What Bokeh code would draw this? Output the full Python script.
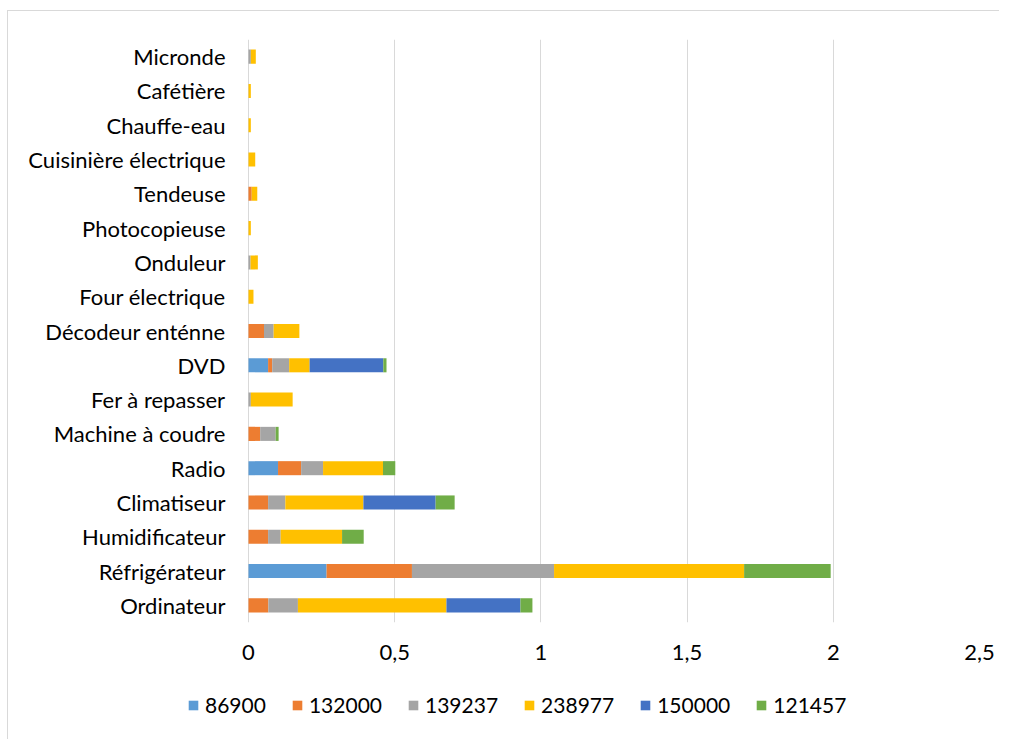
from bokeh.plotting import figure
from bokeh.layouts import column
from bokeh.models import ColumnDataSource, FactorRange, Range1d, Legend, LegendItem, FixedTicker
from bokeh.embed import file_html
from bokeh.resources import INLINE

categories = ["Ordinateur", "Réfrigérateur", "Humidificateur", "Climatiseur", "Radio",
              "Machine à coudre", "Fer à repasser", "DVD", "Décodeur enténne",
              "Four électrique", "Onduleur", "Photocopieuse", "Tendeuse",
              "Cuisinière électrique", "Chauffe-eau", "Cafétière", "Micronde"]

series_names = ["86900", "132000", "139237", "238977", "150000", "121457"]

s86900  = [0.000, 0.267, 0.000, 0.000, 0.101, 0.000, 0.000, 0.067, 0.000, 0.000, 0.000, 0.000, 0.000, 0.000, 0.000, 0.000, 0.000]
s132000 = [0.068, 0.292, 0.067, 0.067, 0.079, 0.040, 0.000, 0.014, 0.053, 0.000, 0.000, 0.000, 0.011, 0.000, 0.000, 0.000, 0.000]
s139237 = [0.101, 0.486, 0.043, 0.059, 0.075, 0.053, 0.008, 0.058, 0.033, 0.000, 0.007, 0.000, 0.000, 0.000, 0.000, 0.000, 0.008]
s238977 = [0.508, 0.650, 0.210, 0.267, 0.205, 0.000, 0.143, 0.070, 0.088, 0.017, 0.025, 0.008, 0.019, 0.023, 0.008, 0.008, 0.017]
s150000 = [0.253, 0.000, 0.000, 0.247, 0.000, 0.000, 0.000, 0.252, 0.000, 0.000, 0.000, 0.000, 0.000, 0.000, 0.000, 0.000, 0.000]
s121457 = [0.041, 0.296, 0.074, 0.065, 0.042, 0.010, 0.000, 0.011, 0.000, 0.000, 0.000, 0.000, 0.000, 0.000, 0.000, 0.000, 0.000]

tick_values = [0, 0.5, 1, 1.5, 2, 2.5]
tick_labels = ["0", "0,5", "1", "1,5", "2", "2,5"]

colors = ["#5B9BD5", "#ED7D31", "#A5A5A5", "#FFC000", "#4472C4", "#70AD47"]

source = ColumnDataSource(dict(cat=categories, s86900=s86900, s132000=s132000, s139237=s139237,
                               s238977=s238977, s150000=s150000, s121457=s121457))
keys = ["s86900", "s132000", "s139237", "s238977", "s150000", "s121457"]

FONT = "Lato"

# The frame starts 61px left of the value 0 so that the legend strip below
# (whose frame is aligned with this one) can start at the same left edge.
X_START = -61 / (731 / 2.5)

p = figure(y_range=FactorRange(*categories, range_padding=0), x_range=Range1d(X_START, 2.5),
           frame_width=792, frame_height=583,
           min_border_left=179, min_border_right=20, min_border_top=28, min_border_bottom=45,
           output_backend="svg", toolbar_location=None)

p.hbar_stack(keys, y="cat", height=0.41, color=colors, source=source, line_color=None)

p.outline_line_color = None
p.background_fill_color = "white"
p.border_fill_color = "white"

p.xgrid.grid_line_color = "#D9D9D9"
p.xgrid.ticker = FixedTicker(ticks=tick_values)
p.ygrid.grid_line_color = None

p.xaxis.ticker = FixedTicker(ticks=tick_values)
p.xaxis.major_label_overrides = {v: l for v, l in zip(tick_values, tick_labels)}
p.xaxis.axis_line_color = None
p.xaxis.major_tick_line_color = None
p.xaxis.minor_tick_line_color = None
p.xaxis.major_label_standoff = 16
p.xaxis.major_label_text_font = FONT
p.xaxis.major_label_text_font_size = "22px"
p.xaxis.major_label_text_color = "#000000"

# category axis: its line is the grid line at 0; labels pulled right of the frame edge
p.yaxis.axis_line_color = None
p.yaxis.major_tick_line_color = None
p.yaxis.minor_tick_line_color = None
p.yaxis.major_label_standoff = -44
p.yaxis.major_label_text_font = FONT
p.yaxis.major_label_text_font_size = "22px"
p.yaxis.major_label_text_color = "#000000"

# Legend strip below the chart
lg = figure(width=991, height=72, x_range=Range1d(0, 1), y_range=Range1d(0, 1),
            min_border=0, output_backend="svg", toolbar_location=None)
lg.axis.visible = False
lg.grid.visible = False
lg.outline_line_color = None
lg.background_fill_color = "white"
lg.border_fill_color = "white"

dummy = [lg.hbar(y=[-5], right=[-5], left=[-6], height=0.5, color=c, line_color=None) for c in colors]
items = [LegendItem(label=n, renderers=[r]) for n, r in zip(series_names, dummy)]
legend = Legend(items=items, orientation="horizontal", location=(0, 22),
                glyph_width=12, glyph_height=12, label_standoff=6, spacing=25,
                label_text_font=FONT, label_text_font_size="21px", label_text_color="#000000",
                border_line_color=None, background_fill_alpha=0, padding=4, margin=0)
lg.add_layout(legend, "center")

layout = column(p, lg, spacing=0,
                styles={"border-top": "1px solid #d9d9d9", "border-left": "1px solid #d9d9d9",
                        "margin-left": "7px", "margin-top": "10px"})

open("out.html", "w").write(file_html(layout, INLINE))
